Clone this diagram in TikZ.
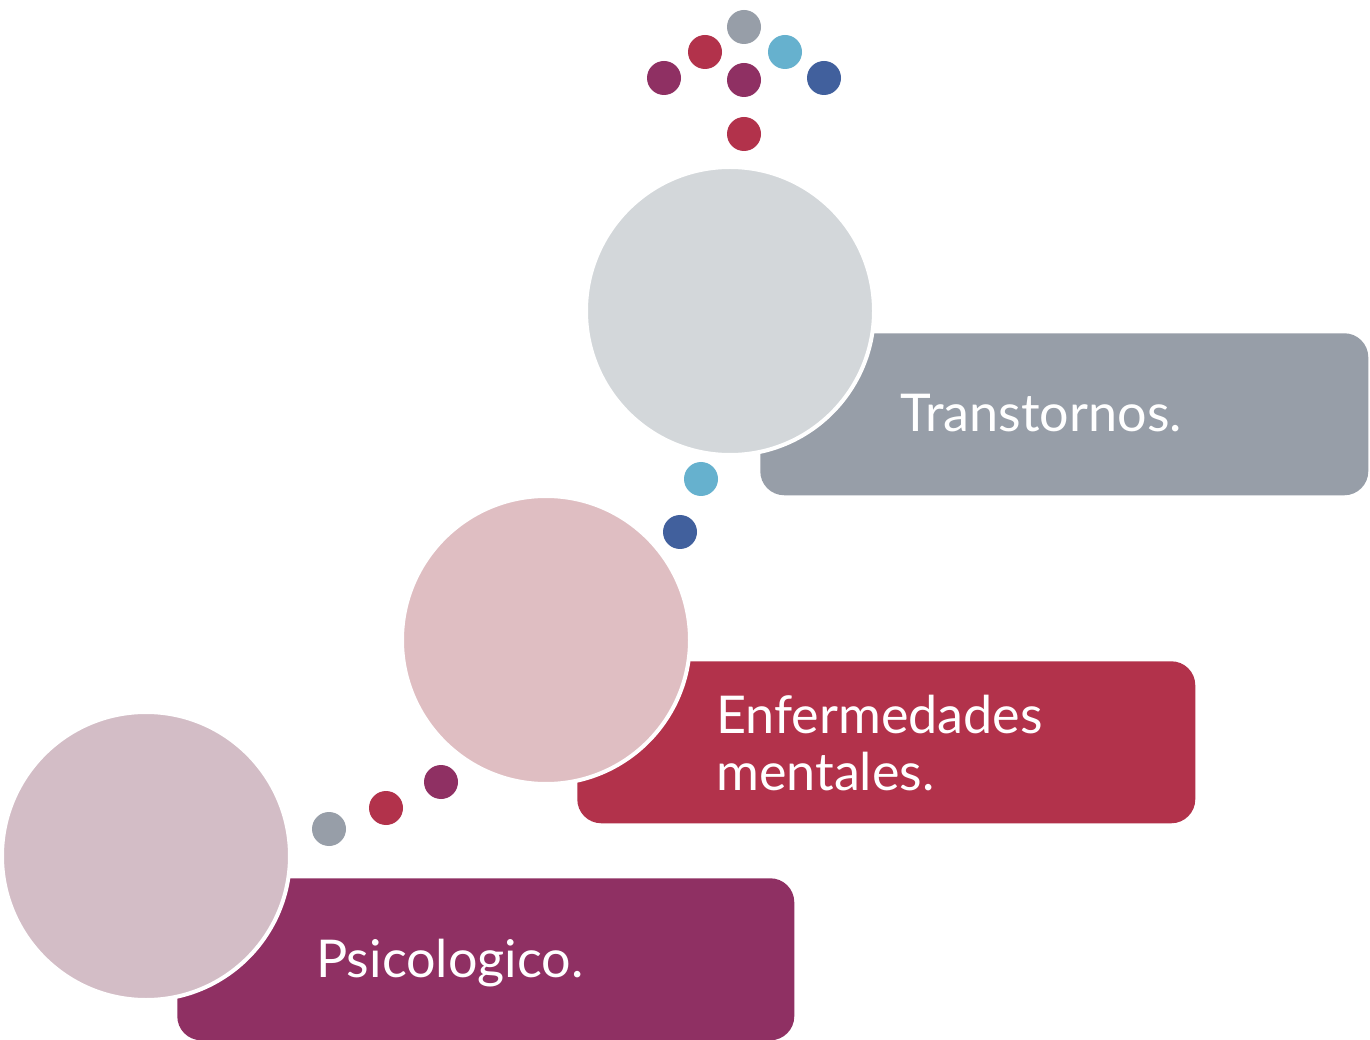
\documentclass[tikz,border=0pt]{standalone}
\usepackage{fontspec}
\setmainfont{Lato}
\definecolor{cgray}{HTML}{979EA8}
\definecolor{cred}{HTML}{B2324B}
\definecolor{cpurple}{HTML}{8F3063}
\definecolor{clblue}{HTML}{66B1CE}
\definecolor{cblue}{HTML}{41609D}
\definecolor{ctop}{HTML}{D3D7DA}
\definecolor{cmid}{HTML}{DFBEC2}
\definecolor{cbot}{HTML}{D3BDC6}
\tikzset{
  bigcirc/.style={circle, minimum size=288*0.72pt, inner sep=0pt, draw=white, line width=4*0.72pt},
  dotc/.style={circle, minimum size=34*0.72pt, inner sep=0pt, draw=none},
  labelbox/.style={rounded corners=24*0.72pt, inner sep=0pt, draw=none},
  lbl/.style={font=\fontsize{37.5}{40}\selectfont, text=white, anchor=base west, align=left, inner sep=0pt},
}
\begin{document}
\begin{tikzpicture}[x=0.72pt, y=-0.72pt]
\useasboundingbox[fill=white] (0,0) rectangle (1370,1040);
% boxes
\node[labelbox, fill=cgray, minimum width=608*0.72pt, minimum height=162*0.72pt, anchor=north west] (b1) at (760,333) {};
\node[labelbox, fill=cred, minimum width=618*0.72pt, minimum height=162*0.72pt, anchor=north west] (b2) at (577,661) {};
\node[labelbox, fill=cpurple, minimum width=617*0.72pt, minimum height=162*0.72pt, anchor=north west] (b3) at (177,878) {};
% circles
\node[bigcirc, fill=ctop] (c1) at (730,311) {};
\node[bigcirc, fill=cmid] (c2) at (546,640) {};
\node[bigcirc, fill=cbot] (c3) at (146,856) {};
% labels
\node[lbl] (t1) at (900,432) {Transtornos.};
\node[lbl] (t2) at (716,733) {Enfermedades};
\node[lbl] (t2b) at (716,790) {mentales.};
\node[lbl] (t3) at (316,977) {Psicologico.};
% top dots
\node[dotc, fill=cgray] (d1) at (744,27) {};
\node[dotc, fill=cred] (d2) at (705,52) {};
\node[dotc, fill=clblue] (d3) at (785,52) {};
\node[dotc, fill=cpurple] (d4) at (664,78) {};
\node[dotc, fill=cpurple] (d5) at (744,80) {};
\node[dotc, fill=cblue] (d6) at (824,78) {};
\node[dotc, fill=cred] (d7) at (744,134) {};
% middle dots
\node[dotc, fill=clblue] (m1) at (701,479) {};
\node[dotc, fill=cblue] (m2) at (680,532) {};
% bottom dots
\node[dotc, fill=cgray] (l1) at (329,829) {};
\node[dotc, fill=cred] (l2) at (386,808) {};
\node[dotc, fill=cpurple] (l3) at (441,782) {};
\end{tikzpicture}
\end{document}
